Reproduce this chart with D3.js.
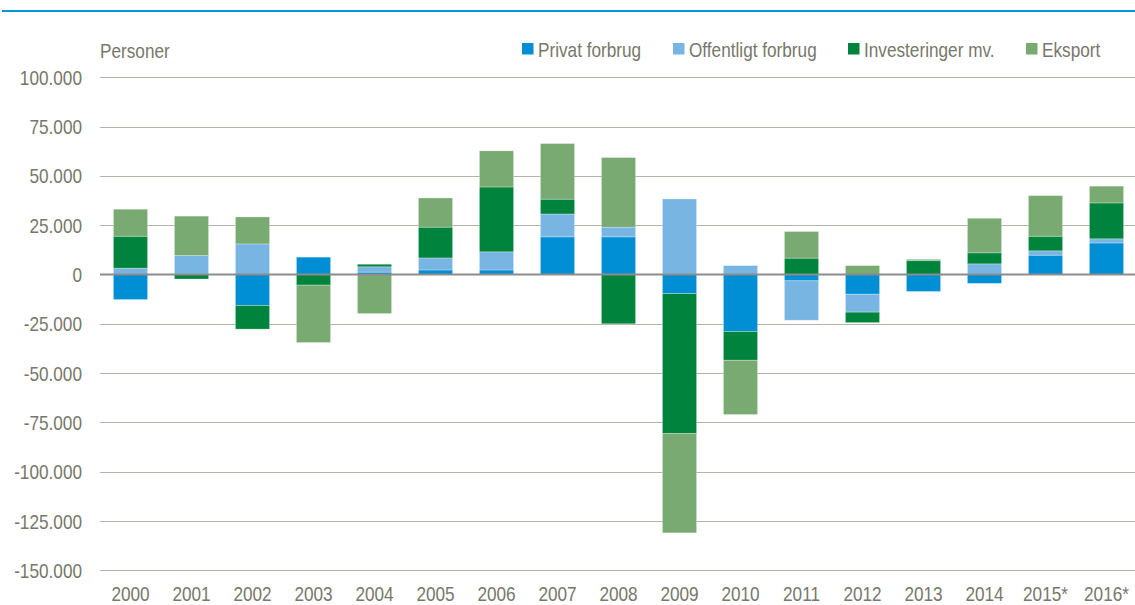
<!DOCTYPE html>
<html>
<head>
<meta charset="utf-8">
<script src="https://cdn.jsdelivr.net/npm/d3@7/dist/d3.min.js"></script>
<style>
  html, body { margin: 0; padding: 0; background: #fff; }
  svg { display: block; }
  text { font-family: "Liberation Sans", Arial, sans-serif; fill: #77776a; }
</style>
</head>
<body>
<svg id="chart" width="1135" height="605"></svg>
<script>
const years = ["2000","2001","2002","2003","2004","2005","2006","2007","2008","2009","2010","2011","2012","2013","2014","2015*","2016*"];
const seriesNames = ["Privat forbrug", "Offentligt forbrug", "Investeringer mv.", "Eksport"];
const privat     = [-12700,     0, -15700,   8800,   1200,  2300,  2300, 19100, 19100,  -9700, -28900, -3200, -10000, -8600, -4500,  9800, 16000];
const offentligt = [  3200,  9600,  15500,      0,   2700,  6100,  9200, 11600,  4900,  38300,   4500,-20000,  -9100,     0,  5400,  2200,  2100];
const invest     = [ 16200, -2300, -12000,  -5400,   1300, 15600, 32900,  7500,-25000, -71000, -14600,  8300,  -5300,  7000,  5600,  7400, 18200];
const eksport    = [ 13700, 20000,  13700, -29100, -19800, 14800, 18300, 28200, 35300, -50300, -27500, 13500,   4500,   700, 17500, 20600,  8500];
const yTicks = [100000, 75000, 50000, 25000, 0, -25000, -50000, -75000, -100000, -125000, -150000];
const colors = ["#008fd5", "#78b5e3", "#00843d", "#78aa71"];

const rows = years.map((y, i) => ({
  year: y,
  "Privat forbrug": privat[i],
  "Offentligt forbrug": offentligt[i],
  "Investeringer mv.": invest[i],
  "Eksport": eksport[i]
}));

const SX = 0.86; // horizontal condensing to mimic a narrow typeface
const svg = d3.select("#chart");
const left = 100, right = 1137;

const x = d3.scaleBand().domain(years).range([left, right]).paddingInner(0.44).paddingOuter(0.22);
const y = d3.scaleLinear().domain([-150000, 100000]).range([570.3, 77.3]);

// top blue rule
svg.append("line").attr("x1", 2).attr("x2", 1135).attr("y1", 11).attr("y2", 11)
  .attr("stroke", "#0096d6").attr("stroke-width", 2.2);

// gridlines
svg.append("g").selectAll("line").data(yTicks.filter(d => d !== 0)).join("line")
  .attr("x1", left).attr("x2", 1135)
  .attr("y1", d => Math.round(y(d)) + 0.5).attr("y2", d => Math.round(y(d)) + 0.5)
  .attr("stroke", "#b4b4a6").attr("stroke-width", 1.2);

// y axis labels
const fmt = d => d === 0 ? "0" : d3.format(",")(d).replace(/,/g, ".").replace("−", "-");
const yAxis = d3.axisLeft(y).tickValues(yTicks).tickSize(0).tickPadding(0).tickFormat(fmt);
const gy = svg.append("g").attr("transform", `translate(82,0) scale(${SX},1)`).call(yAxis);
gy.select(".domain").remove();
gy.selectAll("text").attr("font-size", 20).attr("fill", "#77776a")
  .style("font-family", '"Liberation Sans", Arial, sans-serif').attr("dy", "0.35em");

// stacked bars
const stack = d3.stack().keys(seriesNames).offset(d3.stackOffsetDiverging);
const stacked = stack(rows);
svg.append("g").selectAll("g").data(stacked).join("g")
  .attr("fill", (d, i) => colors[i])
  .selectAll("rect").data(d => d).join("rect")
  .attr("x", d => x(d.data.year))
  .attr("width", x.bandwidth())
  .attr("y", d => y(Math.max(d[0], d[1])))
  .attr("height", d => Math.abs(y(d[0]) - y(d[1])))
  .attr("stroke", "#ffffff").attr("stroke-opacity", 0.35).attr("stroke-width", 0.8);

// zero line
svg.append("line").attr("x1", left).attr("x2", 1135).attr("y1", y(0)).attr("y2", y(0))
  .attr("stroke", "#8c8c8c").attr("stroke-width", 2);

// x axis labels
const xAxis = d3.axisBottom(x).tickSize(0).tickPadding(0);
const gx = svg.append("g").attr("transform", `translate(0,587)`).call(xAxis);
gx.select(".domain").remove();
gx.selectAll("text").attr("font-size", 20).attr("fill", "#77776a").attr("dy", "0.72em")
  .attr("transform", `scale(${SX},1)`)
  .style("font-family", '"Liberation Sans", Arial, sans-serif');

// Personer label
svg.append("text").attr("transform", `translate(100,58) scale(${SX},1)`)
  .attr("font-size", 20).text("Personer");

// legend
const legendX = [522, 673, 848, 1026];
const lg = svg.append("g").selectAll("g").data(seriesNames).join("g")
  .attr("transform", (d, i) => `translate(${legendX[i]},0)`);
lg.append("rect").attr("x", 0).attr("y", 43).attr("width", 11.5).attr("height", 11.5)
  .attr("fill", (d, i) => colors[i]);
lg.append("text").attr("transform", `translate(16,57) scale(${SX},1)`)
  .attr("font-size", 20).text(d => d);
</script>
</body>
</html>
